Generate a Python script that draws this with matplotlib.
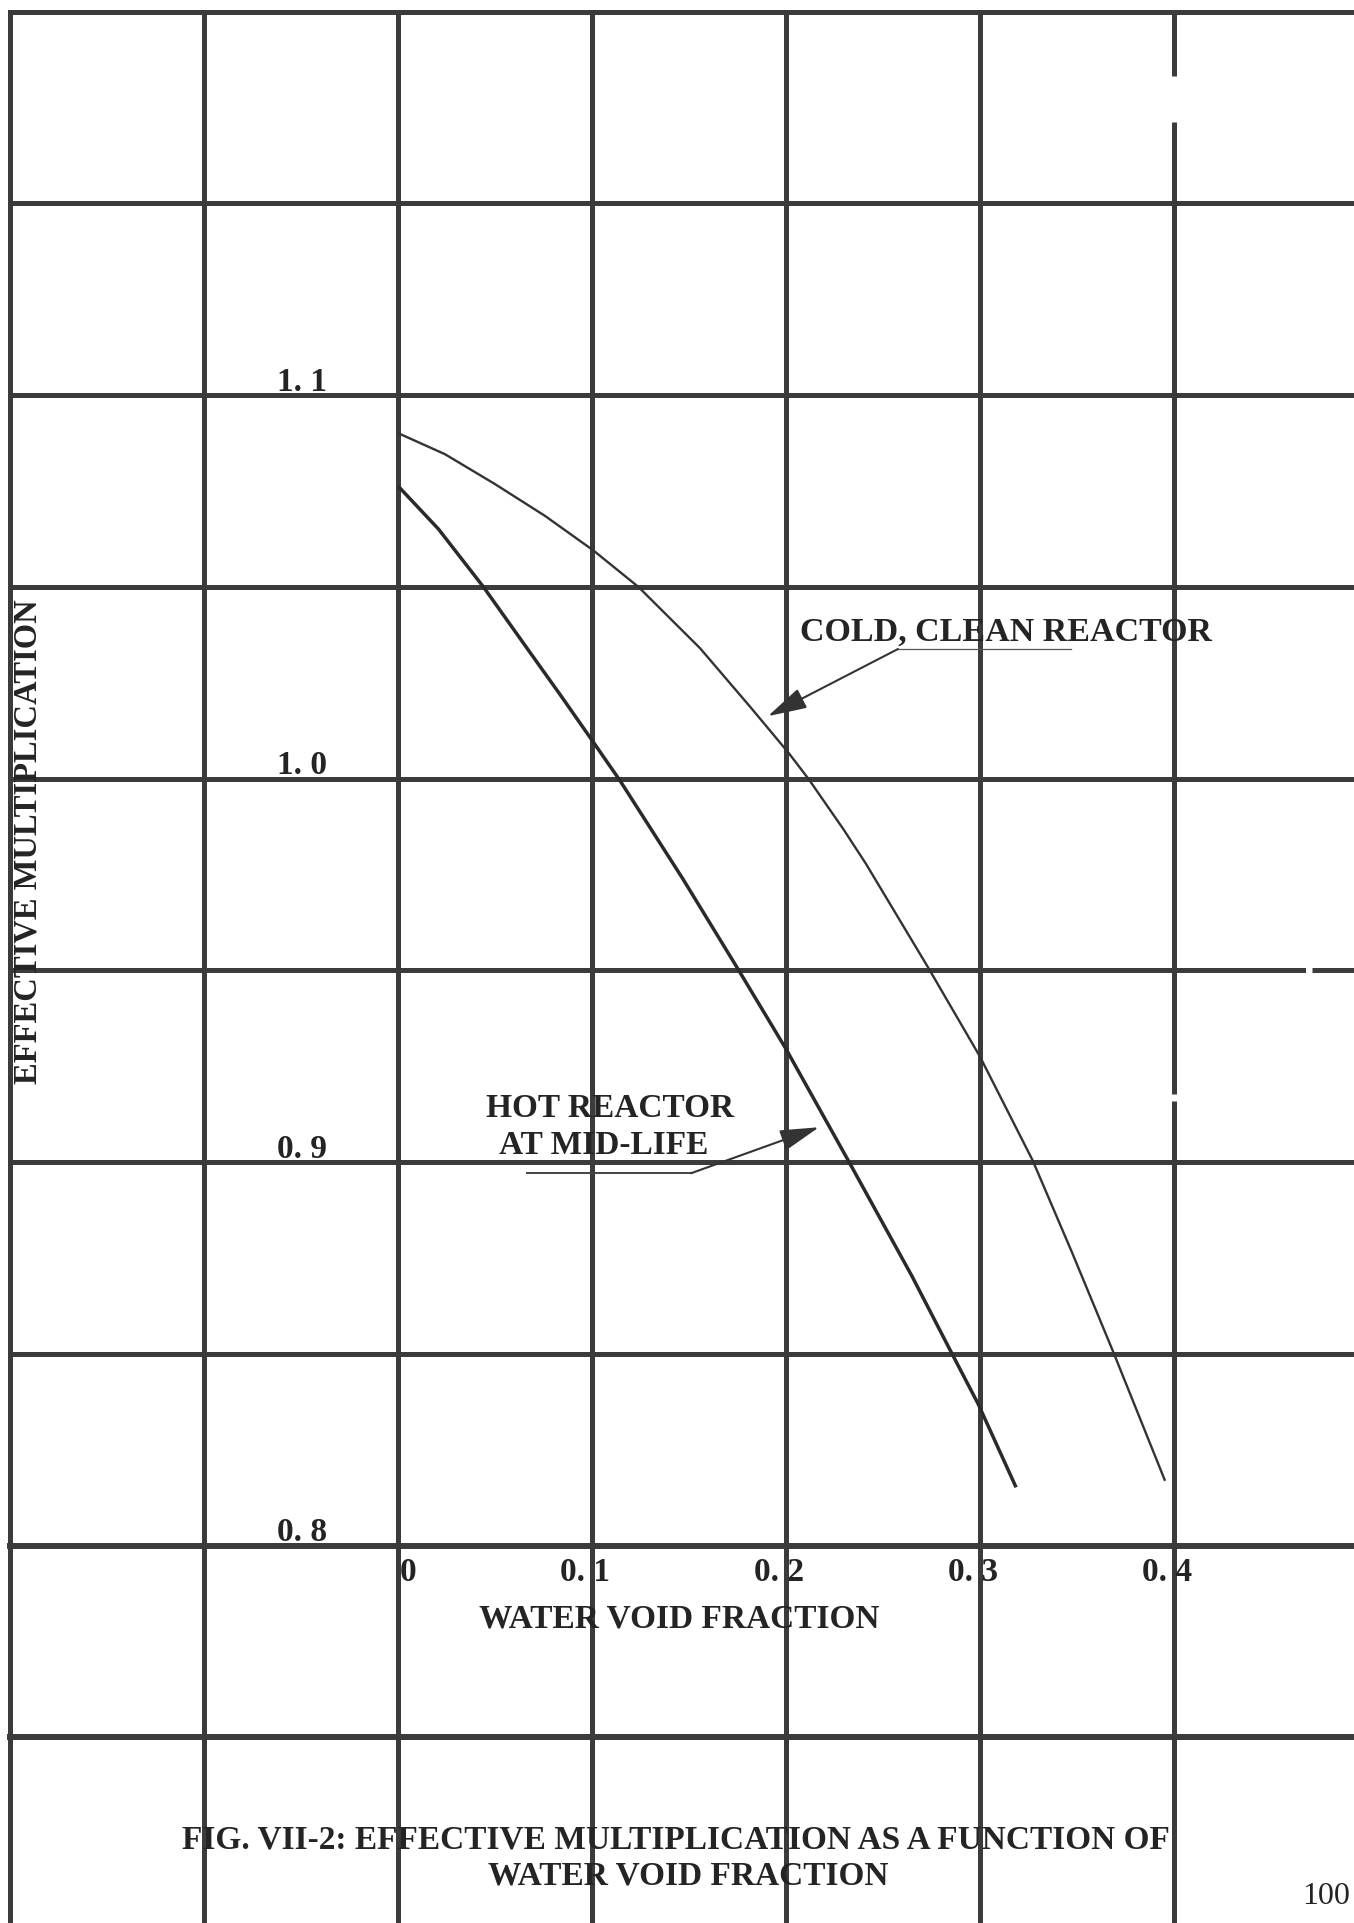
import matplotlib
matplotlib.use("Agg")
import matplotlib.pyplot as plt

# ---------------- data ----------------
cold_x = [0.0, 0.0242, 0.050, 0.0758, 0.1007, 0.1239, 0.1557, 0.1814, 0.2012, 0.2115,
          0.2296, 0.2412, 0.2732, 0.3, 0.3271, 0.3474, 0.3687, 0.3954]
cold_y = [1.0901, 1.0846, 1.0768, 1.0685, 1.0595, 1.0500, 1.0340, 1.0188, 1.0068, 1.0,
          0.9868, 0.9778, 0.9508, 0.9275, 0.9005, 0.8765, 0.8505, 0.8169]

hot_x = [0.0, 0.0208, 0.0440, 0.0672, 0.0844, 0.1007, 0.1144, 0.1469, 0.1747, 0.2,
         0.232, 0.2649, 0.2851, 0.299, 0.3186]
hot_y = [1.0763, 1.0651, 1.050, 1.0335, 1.0213, 1.0095, 0.9995, 0.9738, 0.9508, 0.9295,
         0.9005, 0.8703, 0.8505, 0.8370, 0.8152]

x_ticks = [0.0, 0.1, 0.2, 0.3, 0.4]
x_tick_labels = ["0", "0. 1", "0. 2", "0. 3", "0. 4"]
y_ticks = [1.1, 1.0, 0.9, 0.8]
y_tick_labels = ["1. 1", "1. 0", "0. 9", "0. 8"]

grid_x = [-0.2, -0.1, 0.0, 0.1, 0.2, 0.3, 0.4]
grid_y = [0.70, 0.75, 0.80, 0.85, 0.90, 0.95, 1.00, 1.05, 1.10, 1.15, 1.20]

x_label = "WATER VOID FRACTION"
y_label = "EFFECTIVE MULTIPLICATION"
cold_label = "COLD, CLEAN REACTOR"
hot_label_1 = "HOT REACTOR"
hot_label_2 = "AT MID-LIFE"
caption1 = "FIG. VII-2: EFFECTIVE MULTIPLICATION AS A FUNCTION OF"
caption2 = "WATER VOID FRACTION"
page_no = "100"

# ---------------- figure ----------------
W, H = 1354, 1924
fig = plt.figure(figsize=(W / 100, H / 100), dpi=100)
ax = fig.add_axes([0, 0, 1, 1])
XL = (-0.2052, 0.4928)
YL = (0.7016, 1.2033)
ax.set_xlim(*XL)
ax.set_ylim(*YL)
ax.axis("off")

grid_col = "#3b3b3b"
ink = "#242424"
FONT = ["Liberation Serif", "DejaVu Serif"]

# grid lines (with a few scan gaps on the right-hand lines)
for gx in grid_x:
    if gx == 0.4:
        segs = [(1.2, 1.1832), (1.1712, 0.9177), (0.9159, YL[0] - 0.01)]
        for top, bot in segs:
            ax.vlines(gx, bot, top, color=grid_col, lw=3.6, capstyle="butt", zorder=1)
    else:
        ax.vlines(gx, YL[0] - 0.01, 1.2, color=grid_col, lw=3.6,
                  capstyle="projecting", zorder=1)
for gy in grid_y:
    lw = 4.3 if gy in (0.80, 0.75) else 3.6
    if abs(gy - 0.95) < 1e-9:
        ax.hlines(gy, -0.2, 0.4665, color=grid_col, lw=lw, capstyle="projecting", zorder=1)
        ax.hlines(gy, 0.4711, XL[1] + 0.01, color=grid_col, lw=lw, zorder=1)
    else:
        ax.hlines(gy, -0.2, XL[1] + 0.01, color=grid_col, lw=lw,
                  capstyle="projecting", zorder=1)

# curves
ax.plot(cold_x, cold_y, color="#333333", lw=1.7, solid_capstyle="butt",
        solid_joinstyle="round", zorder=3)
ax.plot(hot_x, hot_y, color="#2a2a2a", lw=2.5, solid_capstyle="butt",
        solid_joinstyle="round", zorder=3)

# tick labels
for yt, lab in zip(y_ticks, y_tick_labels):
    ax.text(-0.0495, yt + 0.0014, lab, ha="center", va="baseline", fontsize=24,
            family=FONT, weight="bold", color=ink, zorder=4)
for xt, lab in zip(x_ticks, x_tick_labels):
    ax.text(xt + 0.0095, 0.7974, lab, ha="right", va="top", fontsize=24,
            family=FONT, weight="bold", color=ink, zorder=4)

# axis labels
ax.text(0.1448, 0.7811, x_label, ha="center", va="center", fontsize=24,
        family=FONT, weight="bold", color=ink, zorder=4)
ax.text(-0.1907, 0.9838, y_label, ha="center", va="center", rotation=90,
        fontsize=23.5, family=FONT, weight="bold", color=ink, zorder=4)

# annotations
ax.text(0.3134, 1.0385, cold_label, ha="center", va="center", fontsize=24.5,
        family=FONT, weight="bold", color=ink, zorder=4)
ax.plot([0.2577, 0.347], [1.0338, 1.0338], color="#555555", lw=0.9, zorder=4)
ax.annotate("", xy=(0.1907, 1.0163), xytext=(0.2577, 1.0338),
            arrowprops=dict(arrowstyle="-|>,head_length=1.1,head_width=0.3",
                            lw=1.5, color="#333333", shrinkA=0, shrinkB=0,
                            mutation_scale=22), zorder=4)

ax.text(0.1093, 0.9143, hot_label_1, ha="center", va="center", fontsize=24,
        family=FONT, weight="bold", color=ink, zorder=4)
ax.text(0.1062, 0.9047, hot_label_2, ha="center", va="center", fontsize=24,
        family=FONT, weight="bold", color=ink, zorder=4)
ax.plot([0.0665, 0.151], [0.8971, 0.8971], color="#444444", lw=1.4, zorder=4)
ax.annotate("", xy=(0.217, 0.9091), xytext=(0.151, 0.8971),
            arrowprops=dict(arrowstyle="-|>,head_length=1.1,head_width=0.3",
                            lw=1.5, color="#333333", shrinkA=0, shrinkB=0,
                            mutation_scale=22), zorder=4)

# caption
ax.text(0.1433, 0.7236, caption1, ha="center", va="center", fontsize=24,
        family=FONT, weight="bold", color=ink, zorder=4)
ax.text(0.1495, 0.7140, caption2, ha="center", va="center", fontsize=24,
        family=FONT, weight="bold", color=ink, zorder=4)
ax.text(0.4784, 0.7088, page_no, ha="center", va="center", fontsize=23,
        family=FONT, color=ink, zorder=4)

fig.savefig("out.png", dpi=100, facecolor="white")
